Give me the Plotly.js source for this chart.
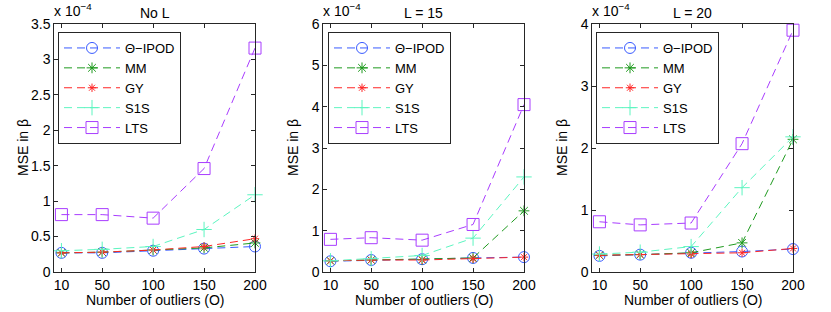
<!DOCTYPE html>
<html>
<head>
<meta charset="utf-8">
<script src="https://cdn.plot.ly/plotly-3.0.1.min.js"></script>
<style>html,body{margin:0;padding:0;background:#fff}#chart{width:831px;height:312px}</style>
</head>
<body>
<div id="chart"></div>
<script>
// x values: number of outliers (O)
const outliers = [10, 50, 100, 150, 200];
const xTickLabels = ['10', '50', '100', '150', '200'];
// MSE in beta, in units of 1e-4
// Panel: No L
const ipodNoL = [0.27, 0.27, 0.30, 0.33, 0.36];
const mmNoL   = [0.27, 0.28, 0.31, 0.34, 0.41];
const gyNoL   = [0.27, 0.28, 0.31, 0.36, 0.47];
const s1sNoL  = [0.30, 0.32, 0.36, 0.60, 1.09];
const ltsNoL  = [0.81, 0.81, 0.76, 1.46, 3.16];
// Panel: L = 15
const ipodL15 = [0.26, 0.29, 0.31, 0.34, 0.36];
const mmL15   = [0.27, 0.29, 0.30, 0.34, 1.48];
const gyL15   = [0.27, 0.29, 0.29, 0.32, 0.36];
const s1sL15  = [0.27, 0.32, 0.40, 0.82, 2.30];
const ltsL15  = [0.79, 0.83, 0.77, 1.15, 4.05];
// Panel: L = 20
const ipodL20 = [0.26, 0.28, 0.31, 0.33, 0.37];
const mmL20   = [0.27, 0.28, 0.31, 0.47, 2.14];
const gyL20   = [0.27, 0.28, 0.29, 0.31, 0.38];
const s1sL20  = [0.29, 0.32, 0.41, 1.36, 2.18];
const ltsL20  = [0.81, 0.76, 0.79, 2.07, 3.90];

const methodNames = ['\u0398\u2212IPOD', 'MM', 'GY', 'S1S', 'LTS'];
const panelTitles = ['No L', 'L = 15', 'L = 20'];
const panelData = [
  [ipodNoL, mmNoL, gyNoL, s1sNoL, ltsNoL],
  [ipodL15, mmL15, gyL15, s1sL15, ltsL15],
  [ipodL20, mmL20, gyL20, s1sL20, ltsL20]
];
const yRanges = [[0, 3.5], [0, 6], [0, 4]];
const yDticks = [0.5, 1, 1];

const styles = [
  {color: '#3a5cff', symbol: 'circle-open', size: 11},
  {color: '#1f9a1f', symbol: 'asterisk-open', size: 9},
  {color: '#ff2626', symbol: 'asterisk-open', size: 7},
  {color: '#5cf5c0', symbol: 'cross-thin-open', size: 11},
  {color: '#a83cff', symbol: 'square-open', size: 12}
];

const W = 831, H = 312, mt = 24, mb = 40;
const plotH = H - mt - mb;
const py = p => (H - mb - p) / plotH;   // pixel y -> paper y
const px = p => p / W;                  // pixel x -> paper x
const axLeft = [54.3, 323.3, 592.3];
const axWidth = 200.7;
const legLeft = [58, 328, 596];
const yTitleX = [23, 293, 562];

const font = 'Liberation Sans, Arial, sans-serif';
const axisColor = '#262626';
const traces = [];
const layout = {
  width: W, height: H,
  margin: {l: 0, r: 0, t: mt, b: mb},
  paper_bgcolor: '#fff', plot_bgcolor: '#fff',
  font: {family: font, size: 14, color: '#000'},
  showlegend: true,
  annotations: []
};

for (let p = 0; p < 3; p++) {
  const sfx = p === 0 ? '' : String(p + 1);
  const xa = 'x' + sfx, ya = 'y' + sfx;
  const legName = 'legend' + sfx;
  for (let m = 0; m < 5; m++) {
    const st = styles[m];
    traces.push({
      type: 'scatter', mode: 'lines+markers',
      x: outliers, y: panelData[p][m],
      xaxis: xa, yaxis: ya,
      name: methodNames[m],
      legend: legName,
      cliponaxis: false,
      line: {color: st.color, width: 1, dash: '8px,5px'},
      marker: {symbol: st.symbol, size: st.size, color: st.color, line: {color: st.color, width: 1}}
    });
  }
  const d0 = px(axLeft[p]), d1 = px(axLeft[p] + axWidth);
  layout['xaxis' + sfx] = {
    domain: [d0, d1], anchor: ya,
    range: [3, 200], tickvals: outliers, ticktext: xTickLabels,
    ticks: 'inside', ticklen: 4, tickcolor: axisColor, tickwidth: 1,
    showline: true, linecolor: axisColor, linewidth: 1, mirror: 'ticks',
    showgrid: false, zeroline: false, fixedrange: true,
    tickfont: {family: font, size: 14, color: '#000'}
  };
  layout['yaxis' + sfx] = {
    domain: [0, 1], anchor: xa,
    range: yRanges[p], dtick: yDticks[p], tick0: 0,
    ticks: 'inside', ticklen: 4, tickcolor: axisColor, tickwidth: 1,
    showline: true, linecolor: axisColor, linewidth: 1, mirror: 'ticks',
    showgrid: false, zeroline: false, fixedrange: true,
    tickfont: {family: font, size: 14, color: '#000'}
  };
  layout[legName] = {
    x: px(legLeft[p]), y: py(32), xanchor: 'left', yanchor: 'top',
    bgcolor: '#fff', bordercolor: axisColor, borderwidth: 1,
    font: {family: font, size: 13, color: '#000'},
    itemwidth: 56, tracegroupgap: 0, itemclick: false, itemdoubleclick: false
  };
  const cx = (d0 + d1) / 2;
  layout.annotations.push(
    {text: panelTitles[p], xref: 'paper', yref: 'paper', x: cx, y: py(13), xanchor: 'center', yanchor: 'middle', showarrow: false, font: {family: font, size: 14, color: '#000'}},
    {text: 'x 10<sup>\u22124</sup>', xref: 'paper', yref: 'paper', x: px(axLeft[p] - 2), y: py(21), xanchor: 'left', yanchor: 'bottom', showarrow: false, font: {family: font, size: 14, color: '#000'}},
    {text: 'MSE in \u03b2', xref: 'paper', yref: 'paper', x: px(yTitleX[p]), y: 0.5, xanchor: 'center', yanchor: 'middle', textangle: -90, showarrow: false, font: {family: font, size: 14, color: '#000'}},
    {text: 'Number of outliers (O)', xref: 'paper', yref: 'paper', x: cx, y: py(300), xanchor: 'center', yanchor: 'middle', showarrow: false, font: {family: font, size: 14, color: '#000'}}
  );
}

Plotly.newPlot('chart', traces, layout, {displayModeBar: false, staticPlot: true});
</script>
</body>
</html>
